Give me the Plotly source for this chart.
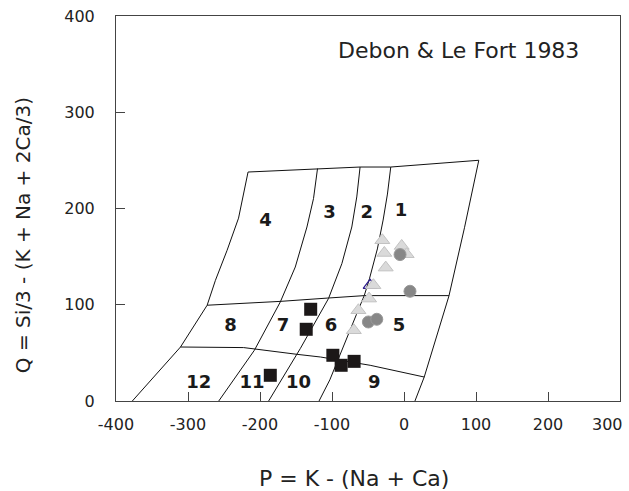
import plotly.graph_objects as go

# Debon & Le Fort (1983) P-Q classification fields
top_x = [-216.6, -120.1, -61.0, -18.4, 103.9]
top_y = [237.9, 241.5, 243.1, 243.1, 250.1]

left_x = [-216.6, -229.8, -245.7, -261.9, -273.4, -310.4, -377.3]
left_y = [237.9, 190.0, 156.6, 125.4, 99.5, 56.1, 0.0]

right_x = [103.9, 84.0, 62.4, 28.1, 15.2]
right_y = [250.1, 180.0, 109.1, 24.9, 0.0]

line_a_x = [-120.1, -125.7, -134.8, -151.0, -171.8, -207.8, -257.3]
line_a_y = [241.5, 210.3, 180.8, 139.2, 102.9, 52.7, 0.0]

line_b_x = [-61.0, -65.6, -72.5, -86.3, -104.9, -144.1, -188.0]
line_b_y = [243.1, 212.0, 180.8, 142.7, 106.4, 54.4, 0.0]

line_c_x = [-18.4, -23.0, -29.0, -37.0, -48.0, -55.0, -66.0, -77.0, -91.0, -103.0, -118.0]
line_c_y = [243.1, 215.0, 188.0, 158.0, 127.0, 110.0, 90.0, 70.0, 45.0, 22.0, 0.0]

upper_x = [-273.4, -171.8, -104.9, -55.0, 62.4]
upper_y = [99.5, 103.5, 107.0, 109.5, 109.5]

lower_x = [-310.4, -222.7, -148.7, -116.0, -47.0, 28.1]
lower_y = [56.1, 55.5, 48.5, 45.7, 37.1, 24.9]

field_labels = ["4", "3", "2", "1", "8", "7", "6", "5", "12", "11", "10", "9"]
field_x = [-192.4, -103.5, -51.7, -4.2, -241.1, -168.1, -101.2, -6.9, -285.0, -211.0, -146.5, -41.2]
field_y = [186.7, 194.7, 195.3, 196.4, 77.9, 77.9, 77.9, 77.9, 18.1, 18.1, 18.1, 18.1]

# Samples
sq_x = [-129.6, -135.8, -98.8, -87.3, -69.3, -185.7]
sq_y = [95.3, 74.5, 47.5, 37.1, 41.2, 26.7]

circ_x = [-5.5, 8.3, -49.5, -37.8]
circ_y = [152.1, 114.0, 82.1, 84.9]

tri_x = [-30.1, -3.2, 3.7, -27.3, -25.4, -42.5, -48.5, -63.3, -69.7]
tri_y = [167.0, 161.1, 152.5, 153.8, 138.6, 120.3, 106.4, 94.3, 73.5]

open_tri_x = [-47.1]
open_tri_y = [120.2]

x_ticks = [-400, -300, -200, -100, 0, 100, 200, 300]
x_tick_text = ["-400", "-300", "-200", "-100", "0", "100", "200", "300"]
y_ticks = [0, 100, 200, 300, 400]

fig = go.Figure()

boundaries = [
    (top_x, top_y), (left_x, left_y), (right_x, right_y),
    (line_a_x, line_a_y), (line_b_x, line_b_y), (line_c_x, line_c_y),
    (upper_x, upper_y), (lower_x, lower_y),
]
for bx, by in boundaries:
    fig.add_trace(go.Scatter(x=bx, y=by, mode="lines",
                             line=dict(color="#111111", width=1),
                             hoverinfo="skip", showlegend=False))

fig.add_trace(go.Scatter(x=field_x, y=field_y, mode="text", text=field_labels,
                         textfont=dict(family="DejaVu Sans", size=18, color="#1a1a1a", weight="bold"),
                         showlegend=False))

fig.add_trace(go.Scatter(x=sq_x, y=sq_y, mode="markers",
                         marker=dict(symbol="square", size=13, color="#1c1818",
                                     line=dict(width=0)),
                         showlegend=False))

fig.add_trace(go.Scatter(x=open_tri_x, y=open_tri_y, mode="markers",
                         marker=dict(symbol="triangle-up-open", size=12,
                                     color="#2b1a8c", line=dict(width=1.2, color="#2b1a8c")),
                         showlegend=False))

fig.add_trace(go.Scatter(x=tri_x, y=tri_y, mode="markers",
                         marker=dict(symbol="triangle-up", size=13, color="#dadada",
                                     line=dict(width=1, color="#c2c2c2")),
                         showlegend=False))

fig.add_trace(go.Scatter(x=circ_x, y=circ_y, mode="markers",
                         marker=dict(symbol="circle", size=12, color="#878787",
                                     line=dict(width=1, color="#9a9a9a")),
                         showlegend=False))

tick_font = dict(family="DejaVu Sans", size=16, color="#222222")
axis_common = dict(showgrid=False, zeroline=False, showline=True, mirror=True,
                   linecolor="#444444", linewidth=1, ticks="inside", ticklen=9,
                   tickcolor="#444444", tickwidth=1, automargin=False,
                   tickfont=tick_font)

# The rightmost x label sits at the page edge, so it is written as a
# right-anchored annotation instead of a regular (centred) tick label.
fig.update_xaxes(range=[-400, 300], tickvals=x_ticks[:-1], ticktext=x_tick_text[:-1],
                 ticklabelstandoff=9, **axis_common)
fig.update_yaxes(range=[0, 400], tickvals=y_ticks, ticklabelstandoff=17, **axis_common)
fig.add_annotation(x=x_ticks[-1], y=0, xref="x", yref="paper", text=x_tick_text[-1],
                   showarrow=False, xanchor="right", yanchor="middle",
                   xshift=5, yshift=-23.5, font=tick_font)

fig.add_annotation(x=76, y=364, xref="x", yref="y", text="Debon & Le Fort 1983",
                   showarrow=False, font=dict(family="DejaVu Sans", size=22, color="#222222"))
fig.add_annotation(x=0.472, y=-0.2, xref="paper", yref="paper", text="P = K - (Na + Ca)",
                   showarrow=False, yanchor="middle",
                   font=dict(family="DejaVu Sans", size=22, color="#222222"))
fig.add_annotation(x=-0.183, y=0.43, xref="paper", yref="paper",
                   text="Q = Si/3 - (K + Na + 2Ca/3)", textangle=-90,
                   showarrow=False, xanchor="center", yanchor="middle",
                   font=dict(family="DejaVu Sans", size=20, color="#222222"))

fig.update_layout(width=629, height=491, plot_bgcolor="white", paper_bgcolor="white",
                  margin=dict(l=115.5, r=8.5, t=15.7, b=90.3, autoexpand=False),
                  showlegend=False)

fig.write_html("out.html")
